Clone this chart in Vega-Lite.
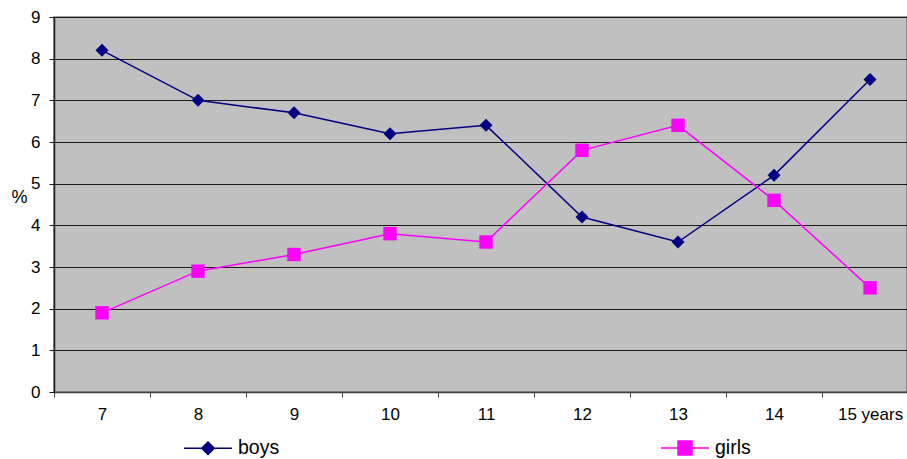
{
  "$schema": "https://vega.github.io/schema/vega-lite/v6.json",
  "autosize": {"type": "none"},
  "width": 853,
  "height": 375,
  "padding": {"left": 54, "top": 17, "right": 0, "bottom": 67},
  "background": "white",
  "config": {
    "font": "Liberation Sans",
    "view": {"fill": "#C0C0C0", "stroke": "#808080", "strokeWidth": 1.5}
  },
  "data": {
    "values": [
      {"age": 7, "series": "boys", "pct": 8.2},
      {"age": 8, "series": "boys", "pct": 7.0},
      {"age": 9, "series": "boys", "pct": 6.7},
      {"age": 10, "series": "boys", "pct": 6.2},
      {"age": 11, "series": "boys", "pct": 6.4},
      {"age": 12, "series": "boys", "pct": 4.2},
      {"age": 13, "series": "boys", "pct": 3.6},
      {"age": 14, "series": "boys", "pct": 5.2},
      {"age": 15, "series": "boys", "pct": 7.5},
      {"age": 7, "series": "girls", "pct": 1.9},
      {"age": 8, "series": "girls", "pct": 2.9},
      {"age": 9, "series": "girls", "pct": 3.3},
      {"age": 10, "series": "girls", "pct": 3.8},
      {"age": 11, "series": "girls", "pct": 3.6},
      {"age": 12, "series": "girls", "pct": 5.8},
      {"age": 13, "series": "girls", "pct": 6.4},
      {"age": 14, "series": "girls", "pct": 4.6},
      {"age": 15, "series": "girls", "pct": 2.5}
    ]
  },
  "encoding": {
    "x": {
      "field": "age",
      "type": "quantitative",
      "scale": {"domain": [6.5, 15.385], "nice": false, "zero": false},
      "axis": {
        "title": null,
        "values": [7, 8, 9, 10, 11, 12, 13, 14, 15],
        "labelExpr": "datum.value == 15 ? '15 years' : datum.label",
        "grid": false,
        "tickOffset": -48,
        "labelOffset": 48,
        "tickSize": 5,
        "tickColor": "#404040",
        "domainColor": "#404040",
        "domainWidth": 1.5,
        "labelFontSize": 17,
        "labelColor": "#000000",
        "labelPadding": 9
      }
    },
    "y": {
      "field": "pct",
      "type": "quantitative",
      "scale": {"domain": [0, 9], "nice": false},
      "axis": {
        "title": "%",
        "titleAngle": 0,
        "titleFontSize": 18,
        "titleFontWeight": "normal",
        "titleColor": "#000000",
        "titleX": -35,
        "titleY": 180,
        "titleAlign": "center",
        "titleBaseline": "middle",
        "values": [0, 1, 2, 3, 4, 5, 6, 7, 8, 9],
        "grid": true,
        "gridColor": "#1a1a1a",
        "gridWidth": 1,
        "gridOpacity": 1,
        "tickSize": 5,
        "tickColor": "#1a1a1a",
        "domainColor": "#1a1a1a",
        "domainWidth": 1.5,
        "labelFontSize": 17,
        "labelColor": "#000000",
        "labelPadding": 9
      }
    },
    "color": {
      "field": "series",
      "type": "nominal",
      "scale": {"domain": ["boys", "girls"], "range": ["#000080", "#FF00FF"]},
      "legend": {
        "title": null,
        "orient": "none",
        "direction": "horizontal",
        "legendX": 129,
        "legendY": 406,
        "columnPadding": 378,
        "symbolSize": 2304,
        "labelFontSize": 19.5,
        "labelColor": "#000000",
        "labelOffset": 5,
        "encode": {
          "symbols": {
            "update": {
              "shape": {"signal": "datum.value === 'boys' ? 'M-1,0H1M-0.26,0L0,-0.26L0.26,0L0,0.26Z' : 'M-1,0H1M-0.29,-0.29H0.29V0.29H-0.29Z'"},
              "fill": {"signal": "datum.value === 'boys' ? '#000080' : '#FF00FF'"},
              "stroke": {"signal": "datum.value === 'boys' ? '#000080' : '#FF00FF'"},
              "strokeWidth": {"value": 1.5},
              "opacity": {"value": 1}
            }
          }
        }
      }
    }
  },
  "layer": [
    {
      "mark": {"type": "line", "strokeWidth": 1.5}
    },
    {
      "transform": [{"filter": "datum.series === 'boys'"}],
      "mark": {"type": "point", "filled": true, "opacity": 1, "size": 170, "shape": "diamond"}
    },
    {
      "transform": [{"filter": "datum.series === 'girls'"}],
      "mark": {"type": "point", "filled": true, "opacity": 1, "size": 180, "shape": "square"}
    }
  ]
}
